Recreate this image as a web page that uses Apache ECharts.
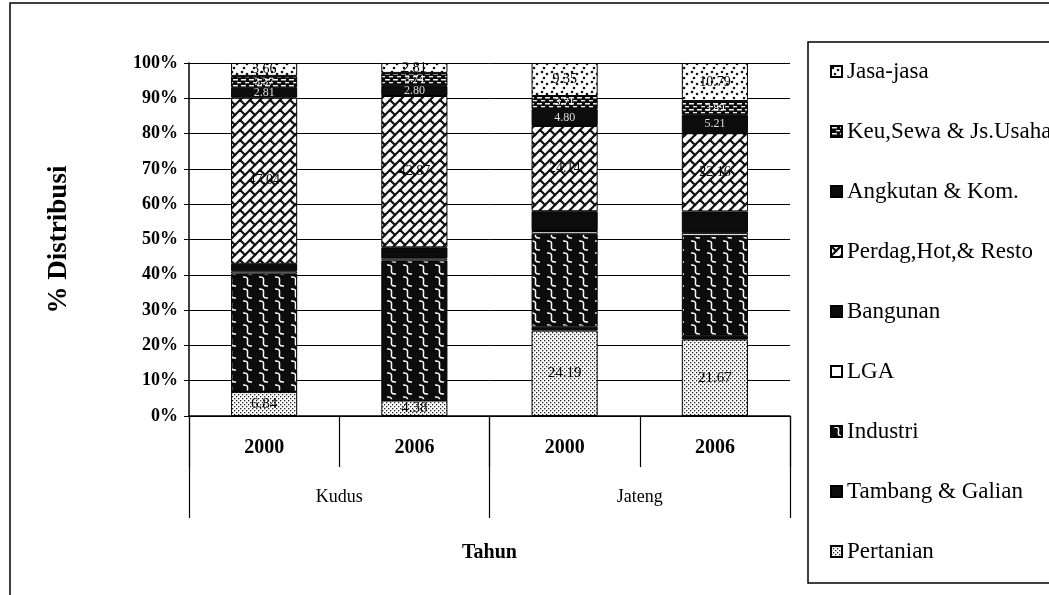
<!DOCTYPE html>
<html>
<head>
<meta charset="utf-8">
<script src="https://cdn.jsdelivr.net/npm/echarts@6/dist/echarts.min.js"></script>
<style>
  html, body { margin: 0; padding: 0; background: #fff; }
  #chart { width: 1049px; height: 595px; }
</style>
</head>
<body>
<div id="chart"></div>
<script>
// Distribusi PDRB per sektor (%), Kudus dan Jawa Tengah
const years = ['2000', '2006', '2000', '2006'];
const regions = ['Kudus', 'Jateng'];

const pertanian = [6.84, 4.38, 24.19, 21.67];
const tambang   = [0.08, 0.07, 1.12, 1.05];
const industri  = [33.46, 39.62, 26.32, 28.31];
const lga       = [0.62, 0.58, 0.78, 0.85];
const bangunan  = [2.12, 3.13, 5.59, 6.07];
const perdag    = [47.04, 42.87, 24.14, 22.16];
const angkutan  = [2.81, 2.80, 4.80, 5.21];
const keu       = [3.37, 3.74, 3.71, 3.89];
const jasa      = [3.66, 2.81, 9.35, 10.79];

const yTicks = [0, 10, 20, 30, 40, 50, 60, 70, 80, 90, 100];

const SERIF = '"Liberation Serif", "DejaVu Serif", serif';

// ---------- fill patterns ----------
function tile(w, h, draw) {
  const c = document.createElement('canvas');
  c.width = w; c.height = h;
  const g = c.getContext('2d');
  draw(g, w, h);
  return { image: c, repeat: 'repeat' };
}

const fillPertanian = tile(4, 4, (g, w, h) => {
  g.fillStyle = '#fff'; g.fillRect(0, 0, w, h);
  g.fillStyle = '#222';
  g.fillRect(0, 0, 1.3, 1.3);
  g.fillRect(2, 2, 1.3, 1.3);
});

const fillJasa = tile(10, 10, (g, w, h) => {
  g.fillStyle = '#fff'; g.fillRect(0, 0, w, h);
  g.fillStyle = '#111';
  [[2, 2], [7, 4], [4, 8]].forEach(([x, y]) => {
    g.beginPath(); g.arc(x, y, 1.3, 0, Math.PI * 2); g.fill();
  });
});

// white S-shaped strokes on black
const fillIndustri = tile(16, 12, (g, w, h) => {
  g.fillStyle = '#0c0c0c'; g.fillRect(0, 0, w, h);
  g.strokeStyle = '#fff'; g.lineWidth = 1.5;
  for (let ox = -16; ox <= 16; ox += 16) {
    for (let oy = -12; oy <= 12; oy += 12) {
      g.beginPath();
      g.moveTo(3 + ox, 1 + oy);
      g.bezierCurveTo(13 + ox, 0 + oy, 2 + ox, 11 + oy, 12 + ox, 10 + oy);
      g.stroke();
    }
  }
});

// diagonal brick work: mortar lines along "/" with staggered joints
const fillPerdag = tile(20, 10, (g, w, h) => {
  g.fillStyle = '#fff'; g.fillRect(0, 0, w, h);
  g.strokeStyle = '#111'; g.lineWidth = 2.2; g.lineCap = 'square';
  for (let c = -20; c <= 40; c += 10) {
    g.beginPath(); g.moveTo(c + 25, -25); g.lineTo(c - 25, 25); g.stroke();
  }
  for (let k = -4; k <= 5; k++) {
    const a = ((-10 * k) % 20 + 20) % 20;
    for (let d = a - 60; d <= 60; d += 20) {
      g.beginPath();
      g.moveTo((d + 10 * k) / 2, (10 * k - d) / 2);
      g.lineTo((d + 10 * k + 10) / 2, (10 * k + 10 - d) / 2);
      g.stroke();
    }
  }
});

const fillKeu = tile(8, 6, (g, w, h) => {
  g.fillStyle = '#0c0c0c'; g.fillRect(0, 0, w, h);
  g.fillStyle = '#eee';
  g.fillRect(1, 1, 5, 1.5);
  g.fillRect(5, 4, 3, 1.3);
  g.fillRect(0, 4, 1, 1.3);
});

const SOLID = '#0c0c0c';

// ---------- series ----------
function labelOf(color, size) {
  return {
    show: true, position: 'inside', color: color,
    fontFamily: SERIF, fontSize: size,
    formatter: p => p.value.toFixed(2)
  };
}

function bar(name, data, fill, label) {
  return {
    name: name, type: 'bar', stack: 'total', data: data,
    barWidth: '44%',
    itemStyle: { color: fill, borderColor: '#000', borderWidth: 1 },
    label: label || { show: false },
    emphasis: { disabled: true }
  };
}

const series = [
  bar('Pertanian', pertanian, fillPertanian, labelOf('#000', 15)),
  bar('Tambang & Galian', tambang, SOLID),
  bar('Industri', industri, fillIndustri),
  bar('LGA', lga, '#fff'),
  bar('Bangunan', bangunan, SOLID),
  bar('Perdag,Hot,& Resto', perdag, fillPerdag, labelOf('#000', 14)),
  bar('Angkutan & Kom.', angkutan, SOLID, labelOf('#ddd', 12)),
  bar('Keu,Sewa & Js.Usaha', keu, fillKeu, labelOf('#fff', 11)),
  bar('Jasa-jasa', jasa, fillJasa, labelOf('#000', 14))
];

const chart = echarts.init(document.getElementById('chart'), null, { renderer: 'canvas' });

chart.setOption({
  animation: false,
  backgroundColor: '#fff',
  grid: { left: 189, right: 259, top: 63, bottom: 179, containLabel: false },
  legend: {
    orient: 'vertical', left: 825, top: 55,
    itemWidth: 11, itemHeight: 11, itemGap: 37,
    icon: 'rect',
    data: series.map(s => s.name).reverse(),
    textStyle: { fontFamily: SERIF, fontSize: 23, color: '#000', lineHeight: 22 },
    selectedMode: false
  },
  xAxis: [
    {
      type: 'category', data: years, position: 'bottom',
      axisLine: { lineStyle: { color: '#000', width: 1.5 } },
      axisTick: { show: true, interval: 0, length: 51, lineStyle: { color: '#000', width: 1.2 } },
      axisLabel: { interval: 0, margin: 22, fontFamily: SERIF, fontSize: 20, fontWeight: 'bold', color: '#000' },
      splitLine: { show: false }
    },
    {
      type: 'category', data: regions, position: 'bottom',
      axisLine: { show: false },
      axisTick: { show: true, interval: 0, length: 102, lineStyle: { color: '#000', width: 1.2 } },
      axisLabel: { interval: 0, margin: 72, fontFamily: SERIF, fontSize: 18, color: '#000' },
      name: 'Tahun', nameLocation: 'middle', nameGap: 127,
      nameTextStyle: { fontFamily: SERIF, fontSize: 20, fontWeight: 'bold', color: '#000' },
      splitLine: { show: false }
    }
  ],
  yAxis: {
    type: 'value', min: 0, max: 100, interval: 10,
    name: '% Distribusi', nameLocation: 'middle', nameRotate: 90, nameGap: 116,
    nameTextStyle: { fontFamily: SERIF, fontSize: 27, fontWeight: 'bold', color: '#000' },
    axisLine: { show: true, lineStyle: { color: '#000', width: 1.5 } },
    axisTick: { show: true, length: 5, lineStyle: { color: '#000' } },
    axisLabel: {
      margin: 11, fontFamily: SERIF, fontSize: 18, fontWeight: 'bold', color: '#000',
      formatter: v => (yTicks.includes(v) ? v + '%' : '')
    },
    splitLine: { show: true, lineStyle: { color: '#000', width: 1 } }
  },
  graphic: [
    {
      type: 'rect', shape: { x: 808, y: 42, width: 260, height: 541 },
      style: { fill: null, stroke: '#000', lineWidth: 1.5 }, z: 0
    },
    {
      type: 'polyline', shape: { points: [[10, 600], [10, 3], [1060, 3]] },
      style: { fill: null, stroke: '#000', lineWidth: 1.5 }, z: 0
    }
  ],
  series: series
});
</script>
</body>
</html>
